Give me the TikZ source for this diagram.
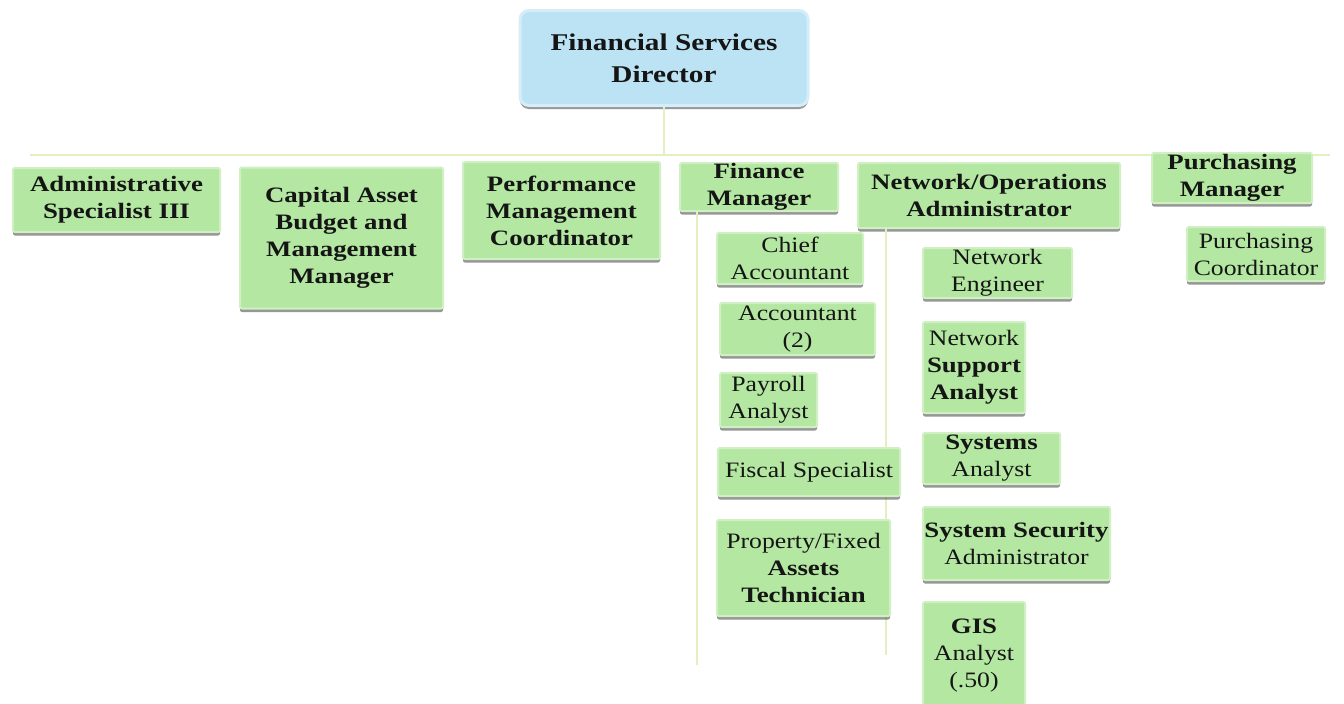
\documentclass[tikz,border=0pt]{standalone}
\usepackage{fontspec}
\setmainfont{Liberation Serif}[FakeStretch=1.17, BoldFeatures={FakeStretch=1.22}]
\usetikzlibrary{shadows}

\definecolor{boxgreen}{HTML}{B4E8A2}
\definecolor{halogreen}{HTML}{D0F0C3}
\definecolor{dirblue}{HTML}{BCE3F4}
\definecolor{haloblue}{HTML}{D5EDF8}
\definecolor{linkc}{HTML}{E4EFC2}
\definecolor{ink}{HTML}{151515}

\begin{document}
\begin{tikzpicture}[x=1pt, y=-1pt,
  box/.style={rectangle, rounded corners=2pt, fill=boxgreen, draw=halogreen,
    line width=2pt, inner sep=0pt, align=center, text=ink,
    font=\fontsize{22}{27}\selectfont,
    drop shadow={shadow xshift=0pt, shadow yshift=-3.5pt, fill=black!75, opacity=0.55}},
  headbox/.style={box, rounded corners=9pt, fill=dirblue, draw=haloblue,
    line width=3pt, font=\fontsize{24}{32}\selectfont},
  link/.style={draw=linkc, line width=2.5pt}]

% page frame
\fill[white] (0,0) rectangle (1344,704);
\useasboundingbox (0,0) rectangle (1344,704);

% bus lines
\coordinate (trunkL) at (30,155);
\coordinate (trunkR) at (1330,155);
\coordinate (finbus) at (697,665);
\coordinate (netbus) at (886,655);

% top
\node[headbox, minimum width=288pt, minimum height=95pt] (dir) at (664,58)
  {\textbf{Financial Services}\\\textbf{Director}};

\draw[link] (trunkL) -- (trunkR);
\draw[link] (dir.south) -- (dir.south |- trunkL);

% first level
\node[box, minimum width=207pt, minimum height=64pt] (admin) at (116.5,200)
  {\textbf{Administrative}\\\textbf{Specialist III}};
\node[box, minimum width=203pt, minimum height=141pt] (capital) at (341.5,238)
  {\textbf{Capital Asset}\\\textbf{Budget and}\\\textbf{Management}\\\textbf{Manager}};
\node[box, minimum width=197pt, minimum height=97pt] (perf) at (561.5,210.5)
  {\textbf{Performance}\\\textbf{Management}\\\textbf{Coordinator}};
\node[box, minimum width=158pt, minimum height=48pt] (fin) at (759,187)
  {\textbf{Finance}\\\textbf{Manager}};
\node[box, minimum width=262pt, minimum height=65pt] (netops) at (989,195.5)
  {\textbf{Network/Operations}\\\textbf{Administrator}};
\node[box, minimum width=160pt, minimum height=50pt] (purmgr) at (1232,178)
  {\textbf{Purchasing}\\\textbf{Manager}};

% branch lines
\draw[link] (fin.south -| finbus) -- (finbus);
\draw[link] (netops.south -| netbus) -- (netbus);

% finance staff
\node[box, minimum width=146pt, minimum height=51pt] (chief) at (790,258.5)
  {Chief\\Accountant};
\node[box, minimum width=155pt, minimum height=52pt] (acct) at (797.5,329)
  {Accountant\\(2)};
\node[box, minimum width=97pt, minimum height=54pt] (payroll) at (768.5,400)
  {Payroll\\Analyst};
\node[box, minimum width=182pt, minimum height=48pt] (fiscal) at (809,472)
  {Fiscal Specialist};
\node[box, minimum width=173pt, minimum height=96pt] (prop) at (803.5,568)
  {Property/Fixed\\\textbf{Assets}\\\textbf{Technician}};

% network staff
\node[box, minimum width=149pt, minimum height=50pt] (neteng) at (997.5,273)
  {Network\\Engineer};
\node[box, minimum width=102pt, minimum height=91pt] (netsup) at (974,367.5)
  {Network\\\textbf{Support}\\\textbf{Analyst}};
\node[box, minimum width=137pt, minimum height=51pt] (sysan) at (991.5,458.5)
  {\textbf{Systems}\\Analyst};
\node[box, minimum width=187pt, minimum height=73pt] (syssec) at (1016.5,543.5)
  {\textbf{System Security}\\Administrator};
\node[box, minimum width=102pt, minimum height=108pt] (gis) at (974,656)
  {\textbf{GIS}\\Analyst\\(.50)};

% purchasing staff
\node[box, minimum width=138pt, minimum height=54pt] (purco) at (1256,254)
  {Purchasing\\Coordinator};

\end{tikzpicture}
\end{document}
